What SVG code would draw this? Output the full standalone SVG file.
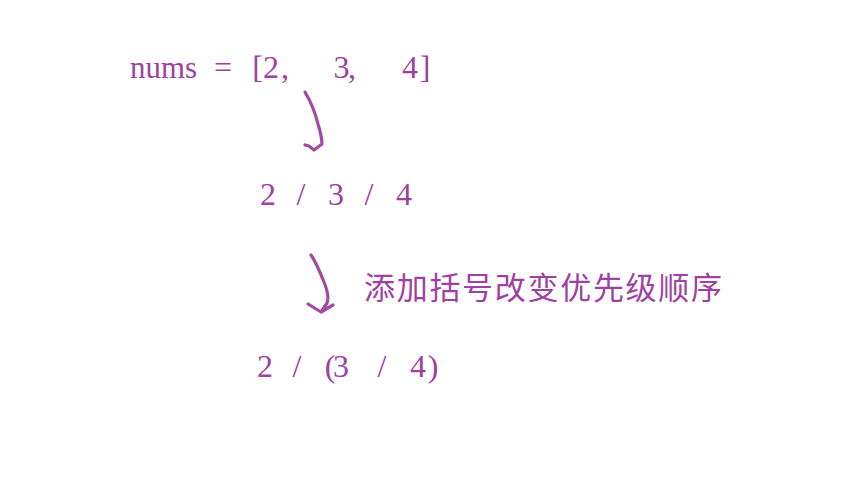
<svg xmlns="http://www.w3.org/2000/svg" width="841" height="502" viewBox="0 0 841 502">
<style>
.t{font-family:"Liberation Serif","DejaVu Serif",serif;font-size:32px;fill:#a040a2;text-anchor:middle}
.w{font-family:"Liberation Serif","DejaVu Serif",serif;font-size:32px;fill:#a040a2}
.c{font-family:"Noto Sans CJK SC",sans-serif;font-size:31px;fill:#a040a2}
.a{fill:none;stroke:#a349a4;stroke-width:3.2;stroke-linecap:round;stroke-linejoin:round}
</style>
<rect width="841" height="502" fill="#ffffff"/>
<g id="line1">
<text class="w" x="130" y="78" textLength="67" lengthAdjust="spacingAndGlyphs">nums</text>
<text class="t" x="223 257.5 271 285 341.5 352 410 425" y="78">=[2,3,4]</text>
</g>
<g id="line2"><text class="t" x="268 301 336 369 404" y="205">2/3/4</text></g>
<g id="line3"><text class="t" x="265 297 330 341 382 418 433" y="377">2/(3/4)</text></g>
<g id="note"><text class="c" x="364" y="299" textLength="358" lengthAdjust="spacing">添加括号改变优先级顺序</text></g>
<g id="connectors">
<path class="a" d="M305,92 C311,102 315,112 318,124 C321,134 322,140 322,144 L314,150 L309,146 L305,145"/>
<path class="a" d="M311,255 C316,262 320,272 324,282 C328,292 329,298 327,303 L321,312 L308,304 M321,312 L333,305"/>
</g>
</svg>
